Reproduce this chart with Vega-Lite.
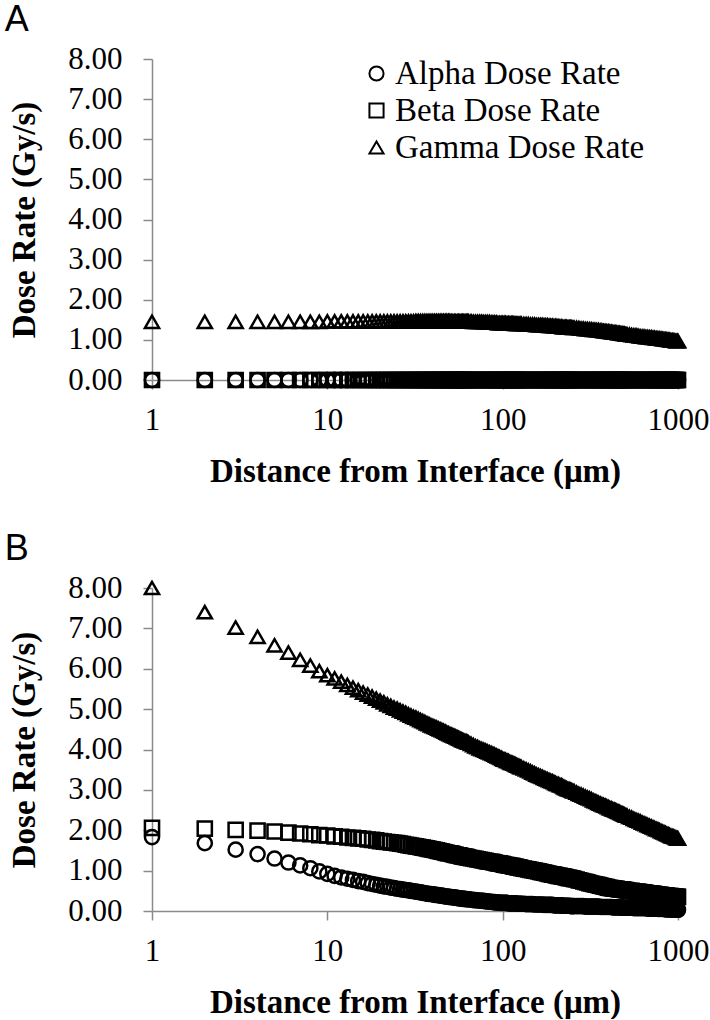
{
  "$schema": "https://vega.github.io/schema/vega-lite/v6.json",
  "background": "white",
  "padding": {"left": 4, "top": 2, "right": 0, "bottom": 0},
  "spacing": 43,
  "config": {
    "font": "Liberation Serif",
    "view": {"stroke": null},
    "axis": {
      "grid": false,
      "domainColor": "#8a8a8a",
      "domainWidth": 1.5,
      "tickColor": "#8a8a8a",
      "tickWidth": 1.5,
      "tickSize": 9,
      "labelFont": "Liberation Serif",
      "labelFontSize": 31,
      "labelColor": "black",
      "titleFont": "Liberation Serif",
      "titleFontSize": 33,
      "titleFontWeight": "bold",
      "titleColor": "black",
      "labelFlush": false
    },
    "legend": {"labelFont": "Liberation Serif"},
    "title": {"font": "Liberation Sans", "fontSize": 36, "fontWeight": "normal", "anchor": "start", "color": "black"}
  },
  "resolve": {"scale": {"shape": "independent"}, "legend": {"shape": "independent"}},
  "datasets": {
    "rows": [
      {"d":1,"aA":0,"bA":0,"gA":1.45,"aB":1.83,"bB":2.06,"gB":8.00},
      {"d":2,"aA":0,"bA":0,"gA":1.45,"aB":1.68,"bB":2.04,"gB":7.40},
      {"d":3,"aA":0,"bA":0,"gA":1.45,"aB":1.52,"bB":2.01,"gB":7.02},
      {"d":4,"aA":0,"bA":0,"gA":1.45,"aB":1.41,"bB":1.99,"gB":6.79},
      {"d":5,"aA":0,"bA":0,"gA":1.45,"aB":1.30,"bB":1.97,"gB":6.58},
      {"d":6,"aA":0,"bA":0,"gA":1.45,"aB":1.20,"bB":1.94,"gB":6.40},
      {"d":7,"aA":0,"bA":0,"gA":1.45,"aB":1.13,"bB":1.92,"gB":6.22},
      {"d":8,"aA":0,"bA":0,"gA":1.45,"aB":1.06,"bB":1.90,"gB":6.08},
      {"d":9,"aA":0,"bA":0,"gA":1.45,"aB":0.98,"bB":1.88,"gB":5.94},
      {"d":10,"aA":0,"bA":0,"gA":1.46,"aB":0.92,"bB":1.87,"gB":5.84},
      {"d":11,"aA":0,"bA":0,"gA":1.46,"aB":0.87,"bB":1.85,"gB":5.76},
      {"d":12,"aA":0,"bA":0,"gA":1.46,"aB":0.83,"bB":1.84,"gB":5.68},
      {"d":13,"aA":0,"bA":0,"gA":1.46,"aB":0.80,"bB":1.82,"gB":5.60},
      {"d":14,"aA":0,"bA":0,"gA":1.46,"aB":0.77,"bB":1.81,"gB":5.53},
      {"d":15,"aA":0,"bA":0,"gA":1.46,"aB":0.74,"bB":1.80,"gB":5.47},
      {"d":16,"aA":0,"bA":0,"gA":1.46,"aB":0.72,"bB":1.79,"gB":5.41},
      {"d":17,"aA":0,"bA":0,"gA":1.46,"aB":0.69,"bB":1.77,"gB":5.36},
      {"d":18,"aA":0,"bA":0,"gA":1.46,"aB":0.67,"bB":1.76,"gB":5.31},
      {"d":19,"aA":0,"bA":0,"gA":1.46,"aB":0.65,"bB":1.75,"gB":5.26},
      {"d":20,"aA":0,"bA":0,"gA":1.46,"aB":0.63,"bB":1.73,"gB":5.21},
      {"d":21,"aA":0,"bA":0,"gA":1.46,"aB":0.61,"bB":1.72,"gB":5.17},
      {"d":22,"aA":0,"bA":0,"gA":1.46,"aB":0.60,"bB":1.71,"gB":5.12},
      {"d":23,"aA":0,"bA":0,"gA":1.46,"aB":0.58,"bB":1.70,"gB":5.08},
      {"d":24,"aA":0,"bA":0,"gA":1.46,"aB":0.57,"bB":1.69,"gB":5.04},
      {"d":25,"aA":0,"bA":0,"gA":1.46,"aB":0.55,"bB":1.68,"gB":5.01},
      {"d":26,"aA":0,"bA":0,"gA":1.46,"aB":0.54,"bB":1.67,"gB":4.97},
      {"d":27,"aA":0,"bA":0,"gA":1.46,"aB":0.53,"bB":1.66,"gB":4.94},
      {"d":28,"aA":0,"bA":0,"gA":1.46,"aB":0.52,"bB":1.64,"gB":4.91},
      {"d":29,"aA":0,"bA":0,"gA":1.46,"aB":0.51,"bB":1.63,"gB":4.87},
      {"d":30,"aA":0,"bA":0,"gA":1.46,"aB":0.50,"bB":1.62,"gB":4.84},
      {"d":31,"aA":0,"bA":0,"gA":1.46,"aB":0.49,"bB":1.61,"gB":4.81},
      {"d":32,"aA":0,"bA":0,"gA":1.47,"aB":0.48,"bB":1.60,"gB":4.79},
      {"d":33,"aA":0,"bA":0,"gA":1.47,"aB":0.47,"bB":1.59,"gB":4.76},
      {"d":34,"aA":0,"bA":0,"gA":1.47,"aB":0.46,"bB":1.58,"gB":4.73},
      {"d":35,"aA":0,"bA":0,"gA":1.47,"aB":0.45,"bB":1.57,"gB":4.70},
      {"d":36,"aA":0,"bA":0,"gA":1.47,"aB":0.44,"bB":1.56,"gB":4.68},
      {"d":37,"aA":0,"bA":0,"gA":1.47,"aB":0.43,"bB":1.55,"gB":4.65},
      {"d":38,"aA":0,"bA":0,"gA":1.47,"aB":0.42,"bB":1.54,"gB":4.63},
      {"d":39,"aA":0,"bA":0,"gA":1.47,"aB":0.42,"bB":1.53,"gB":4.60},
      {"d":40,"aA":0,"bA":0,"gA":1.47,"aB":0.41,"bB":1.52,"gB":4.58},
      {"d":41,"aA":0,"bA":0,"gA":1.47,"aB":0.40,"bB":1.51,"gB":4.56},
      {"d":42,"aA":0,"bA":0,"gA":1.47,"aB":0.40,"bB":1.50,"gB":4.54},
      {"d":43,"aA":0,"bA":0,"gA":1.47,"aB":0.39,"bB":1.49,"gB":4.52},
      {"d":44,"aA":0,"bA":0,"gA":1.47,"aB":0.38,"bB":1.48,"gB":4.50},
      {"d":45,"aA":0,"bA":0,"gA":1.47,"aB":0.38,"bB":1.47,"gB":4.48},
      {"d":46,"aA":0,"bA":0,"gA":1.47,"aB":0.37,"bB":1.46,"gB":4.46},
      {"d":47,"aA":0,"bA":0,"gA":1.47,"aB":0.36,"bB":1.45,"gB":4.44},
      {"d":48,"aA":0,"bA":0,"gA":1.47,"aB":0.36,"bB":1.44,"gB":4.42},
      {"d":49,"aA":0,"bA":0,"gA":1.47,"aB":0.35,"bB":1.43,"gB":4.40},
      {"d":50,"aA":0,"bA":0,"gA":1.47,"aB":0.35,"bB":1.43,"gB":4.38},
      {"d":51,"aA":0,"bA":0,"gA":1.46,"aB":0.34,"bB":1.42,"gB":4.36},
      {"d":52,"aA":0,"bA":0,"gA":1.46,"aB":0.34,"bB":1.41,"gB":4.35},
      {"d":53,"aA":0,"bA":0,"gA":1.46,"aB":0.33,"bB":1.40,"gB":4.33},
      {"d":54,"aA":0,"bA":0,"gA":1.46,"aB":0.33,"bB":1.39,"gB":4.32},
      {"d":55,"aA":0,"bA":0,"gA":1.46,"aB":0.32,"bB":1.38,"gB":4.30},
      {"d":56,"aA":0,"bA":0,"gA":1.46,"aB":0.32,"bB":1.38,"gB":4.28},
      {"d":57,"aA":0,"bA":0,"gA":1.46,"aB":0.31,"bB":1.37,"gB":4.27},
      {"d":58,"aA":0,"bA":0,"gA":1.46,"aB":0.31,"bB":1.36,"gB":4.25},
      {"d":59,"aA":0,"bA":0,"gA":1.46,"aB":0.30,"bB":1.35,"gB":4.23},
      {"d":60,"aA":0,"bA":0,"gA":1.46,"aB":0.30,"bB":1.35,"gB":4.22},
      {"d":61,"aA":0,"bA":0,"gA":1.46,"aB":0.30,"bB":1.34,"gB":4.21},
      {"d":62,"aA":0,"bA":0,"gA":1.46,"aB":0.29,"bB":1.34,"gB":4.20},
      {"d":63,"aA":0,"bA":0,"gA":1.46,"aB":0.29,"bB":1.33,"gB":4.18},
      {"d":64,"aA":0,"bA":0,"gA":1.46,"aB":0.29,"bB":1.32,"gB":4.17},
      {"d":66,"aA":0,"bA":0,"gA":1.46,"aB":0.28,"bB":1.31,"gB":4.14},
      {"d":68,"aA":0,"bA":0,"gA":1.45,"aB":0.27,"bB":1.30,"gB":4.11},
      {"d":70,"aA":0,"bA":0,"gA":1.45,"aB":0.27,"bB":1.29,"gB":4.08},
      {"d":72,"aA":0,"bA":0,"gA":1.45,"aB":0.26,"bB":1.28,"gB":4.06},
      {"d":74,"aA":0,"bA":0,"gA":1.45,"aB":0.26,"bB":1.27,"gB":4.03},
      {"d":76,"aA":0,"bA":0,"gA":1.45,"aB":0.25,"bB":1.26,"gB":4.01},
      {"d":78,"aA":0,"bA":0,"gA":1.44,"aB":0.25,"bB":1.25,"gB":3.99},
      {"d":80,"aA":0,"bA":0,"gA":1.44,"aB":0.24,"bB":1.24,"gB":3.97},
      {"d":82,"aA":0,"bA":0,"gA":1.44,"aB":0.24,"bB":1.23,"gB":3.95},
      {"d":84,"aA":0,"bA":0,"gA":1.44,"aB":0.23,"bB":1.22,"gB":3.93},
      {"d":86,"aA":0,"bA":0,"gA":1.43,"aB":0.23,"bB":1.22,"gB":3.91},
      {"d":88,"aA":0,"bA":0,"gA":1.43,"aB":0.22,"bB":1.21,"gB":3.89},
      {"d":90,"aA":0,"bA":0,"gA":1.43,"aB":0.22,"bB":1.20,"gB":3.87},
      {"d":92,"aA":0,"bA":0,"gA":1.43,"aB":0.21,"bB":1.19,"gB":3.85},
      {"d":94,"aA":0,"bA":0,"gA":1.42,"aB":0.21,"bB":1.18,"gB":3.83},
      {"d":96,"aA":0,"bA":0,"gA":1.42,"aB":0.21,"bB":1.18,"gB":3.81},
      {"d":98,"aA":0,"bA":0,"gA":1.42,"aB":0.20,"bB":1.17,"gB":3.79},
      {"d":100,"aA":0,"bA":0,"gA":1.42,"aB":0.20,"bB":1.16,"gB":3.77},
      {"d":102,"aA":0,"bA":0,"gA":1.42,"aB":0.20,"bB":1.15,"gB":3.75},
      {"d":104,"aA":0,"bA":0,"gA":1.42,"aB":0.20,"bB":1.14,"gB":3.74},
      {"d":106,"aA":0,"bA":0,"gA":1.41,"aB":0.20,"bB":1.14,"gB":3.72},
      {"d":108,"aA":0,"bA":0,"gA":1.41,"aB":0.19,"bB":1.13,"gB":3.71},
      {"d":110,"aA":0,"bA":0,"gA":1.41,"aB":0.19,"bB":1.12,"gB":3.69},
      {"d":112,"aA":0,"bA":0,"gA":1.41,"aB":0.19,"bB":1.12,"gB":3.67},
      {"d":114,"aA":0,"bA":0,"gA":1.41,"aB":0.19,"bB":1.11,"gB":3.66},
      {"d":116,"aA":0,"bA":0,"gA":1.41,"aB":0.19,"bB":1.10,"gB":3.65},
      {"d":118,"aA":0,"bA":0,"gA":1.40,"aB":0.19,"bB":1.10,"gB":3.63},
      {"d":120,"aA":0,"bA":0,"gA":1.40,"aB":0.18,"bB":1.09,"gB":3.61},
      {"d":122,"aA":0,"bA":0,"gA":1.40,"aB":0.18,"bB":1.08,"gB":3.60},
      {"d":124,"aA":0,"bA":0,"gA":1.40,"aB":0.18,"bB":1.08,"gB":3.59},
      {"d":126,"aA":0,"bA":0,"gA":1.40,"aB":0.18,"bB":1.07,"gB":3.57},
      {"d":128,"aA":0,"bA":0,"gA":1.40,"aB":0.18,"bB":1.06,"gB":3.56},
      {"d":132,"aA":0,"bA":0,"gA":1.39,"aB":0.18,"bB":1.05,"gB":3.53},
      {"d":136,"aA":0,"bA":0,"gA":1.39,"aB":0.17,"bB":1.04,"gB":3.51},
      {"d":140,"aA":0,"bA":0,"gA":1.39,"aB":0.17,"bB":1.03,"gB":3.48},
      {"d":144,"aA":0,"bA":0,"gA":1.38,"aB":0.17,"bB":1.02,"gB":3.46},
      {"d":148,"aA":0,"bA":0,"gA":1.38,"aB":0.17,"bB":1.01,"gB":3.43},
      {"d":152,"aA":0,"bA":0,"gA":1.38,"aB":0.16,"bB":1.00,"gB":3.41},
      {"d":156,"aA":0,"bA":0,"gA":1.37,"aB":0.16,"bB":0.99,"gB":3.38},
      {"d":160,"aA":0,"bA":0,"gA":1.37,"aB":0.16,"bB":0.98,"gB":3.36},
      {"d":164,"aA":0,"bA":0,"gA":1.37,"aB":0.16,"bB":0.97,"gB":3.34},
      {"d":168,"aA":0,"bA":0,"gA":1.37,"aB":0.16,"bB":0.96,"gB":3.32},
      {"d":172,"aA":0,"bA":0,"gA":1.36,"aB":0.15,"bB":0.95,"gB":3.30},
      {"d":176,"aA":0,"bA":0,"gA":1.36,"aB":0.15,"bB":0.94,"gB":3.28},
      {"d":180,"aA":0,"bA":0,"gA":1.36,"aB":0.15,"bB":0.93,"gB":3.26},
      {"d":184,"aA":0,"bA":0,"gA":1.35,"aB":0.15,"bB":0.92,"gB":3.24},
      {"d":188,"aA":0,"bA":0,"gA":1.35,"aB":0.15,"bB":0.91,"gB":3.22},
      {"d":192,"aA":0,"bA":0,"gA":1.35,"aB":0.15,"bB":0.90,"gB":3.21},
      {"d":196,"aA":0,"bA":0,"gA":1.34,"aB":0.14,"bB":0.90,"gB":3.19},
      {"d":200,"aA":0,"bA":0,"gA":1.34,"aB":0.14,"bB":0.89,"gB":3.17},
      {"d":204,"aA":0,"bA":0,"gA":1.34,"aB":0.14,"bB":0.88,"gB":3.15},
      {"d":208,"aA":0,"bA":0,"gA":1.33,"aB":0.14,"bB":0.87,"gB":3.14},
      {"d":212,"aA":0,"bA":0,"gA":1.33,"aB":0.14,"bB":0.87,"gB":3.12},
      {"d":216,"aA":0,"bA":0,"gA":1.33,"aB":0.14,"bB":0.86,"gB":3.11},
      {"d":220,"aA":0,"bA":0,"gA":1.32,"aB":0.13,"bB":0.85,"gB":3.09},
      {"d":224,"aA":0,"bA":0,"gA":1.32,"aB":0.13,"bB":0.85,"gB":3.07},
      {"d":228,"aA":0,"bA":0,"gA":1.32,"aB":0.13,"bB":0.84,"gB":3.05},
      {"d":232,"aA":0,"bA":0,"gA":1.32,"aB":0.13,"bB":0.83,"gB":3.04},
      {"d":236,"aA":0,"bA":0,"gA":1.31,"aB":0.13,"bB":0.82,"gB":3.02},
      {"d":240,"aA":0,"bA":0,"gA":1.31,"aB":0.13,"bB":0.82,"gB":3.01},
      {"d":244,"aA":0,"bA":0,"gA":1.31,"aB":0.12,"bB":0.81,"gB":3.00},
      {"d":248,"aA":0,"bA":0,"gA":1.31,"aB":0.12,"bB":0.81,"gB":2.99},
      {"d":252,"aA":0,"bA":0,"gA":1.30,"aB":0.12,"bB":0.80,"gB":2.97},
      {"d":256,"aA":0,"bA":0,"gA":1.30,"aB":0.12,"bB":0.79,"gB":2.96},
      {"d":264,"aA":0,"bA":0,"gA":1.30,"aB":0.12,"bB":0.78,"gB":2.93},
      {"d":272,"aA":0,"bA":0,"gA":1.29,"aB":0.12,"bB":0.76,"gB":2.90},
      {"d":280,"aA":0,"bA":0,"gA":1.28,"aB":0.12,"bB":0.75,"gB":2.88},
      {"d":288,"aA":0,"bA":0,"gA":1.28,"aB":0.12,"bB":0.73,"gB":2.86},
      {"d":296,"aA":0,"bA":0,"gA":1.27,"aB":0.11,"bB":0.72,"gB":2.83},
      {"d":304,"aA":0,"bA":0,"gA":1.27,"aB":0.11,"bB":0.71,"gB":2.81},
      {"d":312,"aA":0,"bA":0,"gA":1.26,"aB":0.11,"bB":0.69,"gB":2.79},
      {"d":320,"aA":0,"bA":0,"gA":1.26,"aB":0.11,"bB":0.68,"gB":2.77},
      {"d":328,"aA":0,"bA":0,"gA":1.25,"aB":0.11,"bB":0.67,"gB":2.74},
      {"d":336,"aA":0,"bA":0,"gA":1.25,"aB":0.11,"bB":0.66,"gB":2.72},
      {"d":344,"aA":0,"bA":0,"gA":1.24,"aB":0.11,"bB":0.65,"gB":2.70},
      {"d":352,"aA":0,"bA":0,"gA":1.24,"aB":0.11,"bB":0.64,"gB":2.68},
      {"d":360,"aA":0,"bA":0,"gA":1.23,"aB":0.10,"bB":0.63,"gB":2.66},
      {"d":368,"aA":0,"bA":0,"gA":1.23,"aB":0.10,"bB":0.62,"gB":2.64},
      {"d":376,"aA":0,"bA":0,"gA":1.22,"aB":0.10,"bB":0.61,"gB":2.62},
      {"d":384,"aA":0,"bA":0,"gA":1.22,"aB":0.10,"bB":0.60,"gB":2.61},
      {"d":392,"aA":0,"bA":0,"gA":1.21,"aB":0.10,"bB":0.59,"gB":2.59},
      {"d":400,"aA":0,"bA":0,"gA":1.21,"aB":0.10,"bB":0.58,"gB":2.57},
      {"d":408,"aA":0,"bA":0,"gA":1.20,"aB":0.10,"bB":0.57,"gB":2.55},
      {"d":416,"aA":0,"bA":0,"gA":1.20,"aB":0.10,"bB":0.57,"gB":2.54},
      {"d":424,"aA":0,"bA":0,"gA":1.19,"aB":0.09,"bB":0.56,"gB":2.52},
      {"d":432,"aA":0,"bA":0,"gA":1.19,"aB":0.09,"bB":0.56,"gB":2.51},
      {"d":440,"aA":0,"bA":0,"gA":1.18,"aB":0.09,"bB":0.55,"gB":2.49},
      {"d":448,"aA":0,"bA":0,"gA":1.18,"aB":0.09,"bB":0.55,"gB":2.48},
      {"d":456,"aA":0,"bA":0,"gA":1.17,"aB":0.09,"bB":0.54,"gB":2.46},
      {"d":464,"aA":0,"bA":0,"gA":1.17,"aB":0.09,"bB":0.54,"gB":2.45},
      {"d":472,"aA":0,"bA":0,"gA":1.16,"aB":0.09,"bB":0.53,"gB":2.43},
      {"d":480,"aA":0,"bA":0,"gA":1.16,"aB":0.08,"bB":0.53,"gB":2.42},
      {"d":488,"aA":0,"bA":0,"gA":1.15,"aB":0.08,"bB":0.53,"gB":2.40},
      {"d":496,"aA":0,"bA":0,"gA":1.15,"aB":0.08,"bB":0.52,"gB":2.39},
      {"d":504,"aA":0,"bA":0,"gA":1.14,"aB":0.08,"bB":0.52,"gB":2.37},
      {"d":512,"aA":0,"bA":0,"gA":1.14,"aB":0.08,"bB":0.51,"gB":2.36},
      {"d":528,"aA":0,"bA":0,"gA":1.13,"aB":0.08,"bB":0.50,"gB":2.33},
      {"d":544,"aA":0,"bA":0,"gA":1.12,"aB":0.08,"bB":0.50,"gB":2.31},
      {"d":560,"aA":0,"bA":0,"gA":1.11,"aB":0.07,"bB":0.49,"gB":2.28},
      {"d":576,"aA":0,"bA":0,"gA":1.11,"aB":0.07,"bB":0.48,"gB":2.26},
      {"d":592,"aA":0,"bA":0,"gA":1.10,"aB":0.07,"bB":0.48,"gB":2.24},
      {"d":608,"aA":0,"bA":0,"gA":1.09,"aB":0.07,"bB":0.47,"gB":2.22},
      {"d":624,"aA":0,"bA":0,"gA":1.08,"aB":0.07,"bB":0.46,"gB":2.19},
      {"d":640,"aA":0,"bA":0,"gA":1.08,"aB":0.07,"bB":0.46,"gB":2.17},
      {"d":656,"aA":0,"bA":0,"gA":1.07,"aB":0.07,"bB":0.45,"gB":2.15},
      {"d":672,"aA":0,"bA":0,"gA":1.07,"aB":0.06,"bB":0.44,"gB":2.13},
      {"d":688,"aA":0,"bA":0,"gA":1.06,"aB":0.06,"bB":0.44,"gB":2.11},
      {"d":704,"aA":0,"bA":0,"gA":1.06,"aB":0.06,"bB":0.43,"gB":2.09},
      {"d":720,"aA":0,"bA":0,"gA":1.05,"aB":0.06,"bB":0.43,"gB":2.07},
      {"d":736,"aA":0,"bA":0,"gA":1.05,"aB":0.06,"bB":0.42,"gB":2.05},
      {"d":752,"aA":0,"bA":0,"gA":1.04,"aB":0.06,"bB":0.41,"gB":2.03},
      {"d":768,"aA":0,"bA":0,"gA":1.04,"aB":0.05,"bB":0.41,"gB":2.02},
      {"d":784,"aA":0,"bA":0,"gA":1.03,"aB":0.05,"bB":0.40,"gB":2.00},
      {"d":800,"aA":0,"bA":0,"gA":1.03,"aB":0.05,"bB":0.40,"gB":1.98},
      {"d":816,"aA":0,"bA":0,"gA":1.02,"aB":0.05,"bB":0.39,"gB":1.96},
      {"d":832,"aA":0,"bA":0,"gA":1.02,"aB":0.05,"bB":0.39,"gB":1.95},
      {"d":848,"aA":0,"bA":0,"gA":1.01,"aB":0.04,"bB":0.38,"gB":1.93},
      {"d":864,"aA":0,"bA":0,"gA":1.01,"aB":0.04,"bB":0.38,"gB":1.91},
      {"d":880,"aA":0,"bA":0,"gA":1.00,"aB":0.04,"bB":0.37,"gB":1.90},
      {"d":896,"aA":0,"bA":0,"gA":1.00,"aB":0.04,"bB":0.37,"gB":1.88},
      {"d":912,"aA":0,"bA":0,"gA":0.99,"aB":0.04,"bB":0.37,"gB":1.86},
      {"d":928,"aA":0,"bA":0,"gA":0.99,"aB":0.04,"bB":0.36,"gB":1.85},
      {"d":944,"aA":0,"bA":0,"gA":0.98,"aB":0.03,"bB":0.36,"gB":1.84},
      {"d":960,"aA":0,"bA":0,"gA":0.98,"aB":0.03,"bB":0.36,"gB":1.83},
      {"d":976,"aA":0,"bA":0,"gA":0.97,"aB":0.03,"bB":0.35,"gB":1.81},
      {"d":992,"aA":0,"bA":0,"gA":0.97,"aB":0.03,"bB":0.35,"gB":1.80},
      {"d":1000,"aA":0,"bA":0,"gA":0.97,"aB":0.03,"bB":0.35,"gB":1.79}
    ]
  },
  "vconcat": [
    {
      "title": {"text": "A", "dx": -4},
      "width": 526,
      "height": 321,
      "data": {"name": "rows"},
      "transform": [{"fold": ["aA", "bA", "gA"], "as": ["series", "rate"]}],
      "mark": {"type": "point", "filled": false, "stroke": "black", "strokeWidth": 2.5, "size": 200, "opacity": 1},
      "encoding": {
        "x": {
          "field": "d", "type": "quantitative",
          "scale": {"type": "log", "domain": [1, 1000]},
          "axis": {"values": [1, 10, 100, 1000], "format": "d", "title": "Distance from Interface (μm)", "labelFont": "Liberation Serif", "labelPadding": 16, "titlePadding": 20}
        },
        "y": {
          "field": "rate", "type": "quantitative",
          "scale": {"domain": [0, 8]},
          "axis": {"values": [0, 1, 2, 3, 4, 5, 6, 7, 8], "format": ".2f", "title": "Dose Rate (Gy/s)", "labelFont": "Liberation Serif", "labelPadding": 21, "titlePadding": 26}
        },
        "shape": {
          "field": "series", "type": "nominal",
          "scale": {"domain": ["aA", "bA", "gA"], "range": ["circle", "square", "triangle-up"]},
          "legend": {
            "orient": "none", "legendX": 208, "legendY": -2, "title": null, "padding": 0,
            "labelExpr": "datum.label == 'aA' ? 'Alpha Dose Rate' : datum.label == 'bA' ? 'Beta Dose Rate' : 'Gamma Dose Rate'",
            "symbolStrokeColor": "black", "symbolFillColor": "white", "symbolStrokeWidth": 2, "symbolSize": 200,
            "labelFont": "Liberation Serif", "labelFontSize": 33, "labelColor": "black", "labelLimit": 400,
            "rowPadding": 3, "labelOffset": 2
          }
        }
      }
    },
    {
      "title": {"text": "B", "dx": -4},
      "width": 526,
      "height": 323,
      "data": {"name": "rows"},
      "transform": [{"fold": ["aB", "bB", "gB"], "as": ["series", "rate"]}],
      "mark": {"type": "point", "filled": false, "stroke": "black", "strokeWidth": 2.5, "size": 200, "opacity": 1},
      "encoding": {
        "x": {
          "field": "d", "type": "quantitative",
          "scale": {"type": "log", "domain": [1, 1000]},
          "axis": {"values": [1, 10, 100, 1000], "format": "d", "title": "Distance from Interface (μm)", "labelFont": "Liberation Serif", "labelPadding": 16, "titlePadding": 20}
        },
        "y": {
          "field": "rate", "type": "quantitative",
          "scale": {"domain": [0, 8]},
          "axis": {"values": [0, 1, 2, 3, 4, 5, 6, 7, 8], "format": ".2f", "title": "Dose Rate (Gy/s)", "labelFont": "Liberation Serif", "labelPadding": 21, "titlePadding": 26}
        },
        "shape": {
          "field": "series", "type": "nominal",
          "scale": {"domain": ["aB", "bB", "gB"], "range": ["circle", "square", "triangle-up"]},
          "legend": null
        }
      }
    }
  ]
}
